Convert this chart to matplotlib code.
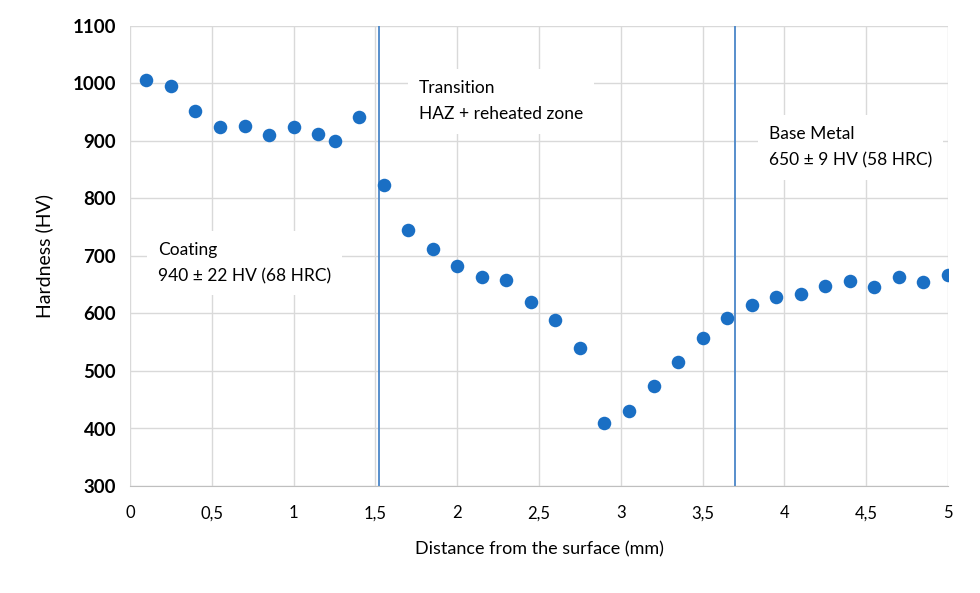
import matplotlib.pyplot as plt
from matplotlib.ticker import FuncFormatter

# hardness profile
distance = [0.1, 0.25, 0.4, 0.55, 0.7, 0.85, 1.0, 1.15, 1.25, 1.4,
            1.55, 1.7, 1.85, 2.0, 2.15, 2.3, 2.45, 2.6, 2.75, 2.9,
            3.05, 3.2, 3.35, 3.5, 3.65, 3.8, 3.95, 4.1, 4.25, 4.4,
            4.55, 4.7, 4.85, 5.0]
hardness = [1006, 996, 952, 924, 926, 910, 924, 912, 900, 942,
            823, 745, 712, 683, 663, 658, 620, 589, 540, 410,
            430, 474, 516, 557, 592, 615, 629, 634, 648, 656,
            646, 663, 655, 667]
boundaries = [1.52, 3.70]

plt.rcParams['font.family'] = ['Lato', 'DejaVu Sans']

fig = plt.figure(figsize=(9.8, 5.93), dpi=100)
ax = fig.add_axes([130/980, 1-486/593, (948-130)/980, (486-26)/593])

ax.set_xlim(0, 5)
ax.set_ylim(300, 1100)
ax.set_xticks([0, 0.5, 1, 1.5, 2, 2.5, 3, 3.5, 4, 4.5, 5])
ax.set_yticks(range(300, 1101, 100))
ax.xaxis.set_major_formatter(FuncFormatter(lambda v, p: ('%g' % v).replace('.', ',')))
ax.grid(True, color='#d9d9d9', linewidth=1)
ax.set_axisbelow(True)
for s in ['top', 'right', 'left']:
    ax.spines[s].set_visible(False)
ax.spines['bottom'].set_color('#bfbfbf')
ax.tick_params(length=0, pad=10)
ax.tick_params(axis='x', labelsize=12, pad=14)
for lab in ax.get_yticklabels():
    lab.set_fontweight('bold')
    lab.set_fontsize(13.5)

for b in boundaries:
    ax.axvline(b, color='#4a86c8', linewidth=1.3, zorder=2)

ax.scatter(distance, hardness, s=95, color='#1a6fc4', zorder=4, linewidths=0)

box = dict(facecolor='white', edgecolor='none', pad=8)
ax.text(0.17, 725, 'Coating\n940 \u00b1 22 HV (68 HRC)', fontsize=12.5,
        va='top', ha='left', linespacing=1.8, bbox=box, zorder=3)
ax.text(1.767, 1006, 'Transition\nHAZ + reheated zone', fontsize=12.5,
        va='top', ha='left', linespacing=1.8, bbox=box, zorder=3)
ax.text(3.906, 926, 'Base Metal\n650 \u00b1 9 HV (58 HRC)', fontsize=12.5,
        va='top', ha='left', linespacing=1.8, bbox=box, zorder=3)

ax.set_xlabel('Distance from the surface (mm)', fontsize=13, labelpad=14)
ax.set_ylabel('Hardness (HV)', fontsize=14, labelpad=14)

fig.savefig('out.png', dpi=100)
